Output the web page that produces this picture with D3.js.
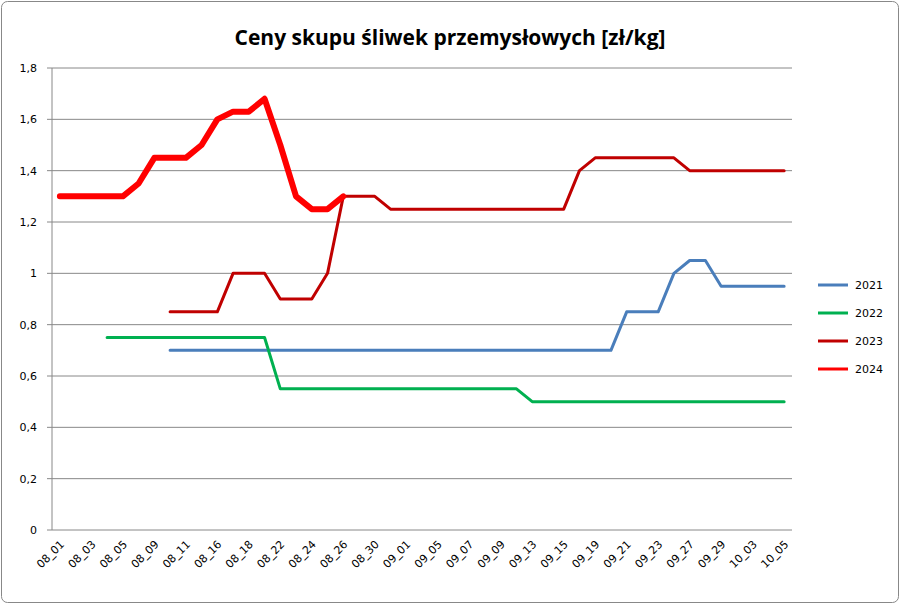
<!DOCTYPE html>
<html><head><meta charset="utf-8">
<script src="https://cdn.jsdelivr.net/npm/d3@7"></script>
<style>body{margin:0;background:#fff}</style></head>
<body><svg id="c" width="900" height="604"></svg>
<script>
const categories=["08_01","08_02","08_03","08_04","08_05","08_08","08_09","08_10","08_11","08_12","08_16","08_17","08_18","08_19","08_22","08_23","08_24","08_25","08_26","08_29","08_30","08_31","09_01","09_02","09_05","09_06","09_07","09_08","09_09","09_12","09_13","09_14","09_15","09_16","09_19","09_20","09_21","09_22","09_23","09_26","09_27","09_28","09_29","09_30","10_03","10_04","10_05"];
const n=null;
const s2021=[n,n,n,n,n,n,n,0.7,0.7,0.7,0.7,0.7,0.7,0.7,0.7,0.7,0.7,0.7,0.7,0.7,0.7,0.7,0.7,0.7,0.7,0.7,0.7,0.7,0.7,0.7,0.7,0.7,0.7,0.7,0.7,0.7,0.85,0.85,0.85,1.0,1.05,1.05,0.95,0.95,0.95,0.95,0.95];
const s2022=[n,n,n,0.75,0.75,0.75,0.75,0.75,0.75,0.75,0.75,0.75,0.75,0.75,0.55,0.55,0.55,0.55,0.55,0.55,0.55,0.55,0.55,0.55,0.55,0.55,0.55,0.55,0.55,0.55,0.5,0.5,0.5,0.5,0.5,0.5,0.5,0.5,0.5,0.5,0.5,0.5,0.5,0.5,0.5,0.5,0.5];
const s2023=[n,n,n,n,n,n,n,0.85,0.85,0.85,0.85,1.0,1.0,1.0,0.9,0.9,0.9,1.0,1.3,1.3,1.3,1.25,1.25,1.25,1.25,1.25,1.25,1.25,1.25,1.25,1.25,1.25,1.25,1.4,1.45,1.45,1.45,1.45,1.45,1.45,1.4,1.4,1.4,1.4,1.4,1.4,1.4];
const s2024=[1.3,1.3,1.3,1.3,1.3,1.35,1.45,1.45,1.45,1.5,1.6,1.63,1.63,1.68,1.5,1.3,1.25,1.25,1.3];
const yTicks=["0","0,2","0,4","0,6","0,8","1","1,2","1,4","1,6","1,8"];
const series=[{name:"2021",v:s2021,c:"#4a7ebb",w:3},{name:"2022",v:s2022,c:"#00b050",w:3},{name:"2023",v:s2023,c:"#c00000",w:3},{name:"2024",v:s2024,c:"#ff0000",w:6}];
const svg=d3.select("#c");
svg.append("rect").attr("x",1.5).attr("y",1.5).attr("width",897).attr("height",601).attr("rx",6).attr("fill","#fff").attr("stroke","#888");
const x=d3.scalePoint().domain(categories).range([52,792]).padding(0.5);
const y=d3.scaleLinear().domain([0,1.8]).range([530,68]);
const g=svg.append("g");
yTicks.forEach((t,i)=>{const v=i*0.2;
 if(i>0)g.append("line").attr("x1",52).attr("x2",792).attr("y1",y(v)).attr("y2",y(v)).attr("stroke","#888").attr("stroke-width",1);
 g.append("text").attr("x",37).attr("y",y(v)+4).attr("text-anchor","end").attr("font-family","DejaVu Sans").attr("font-size",11).text(t);
 g.append("line").attr("x1",47).attr("x2",52).attr("y1",y(v)).attr("y2",y(v)).attr("stroke","#888");
});
g.append("line").attr("x1",52).attr("x2",52).attr("y1",68).attr("y2",530).attr("stroke","#888");
g.append("line").attr("x1",52).attr("x2",792).attr("y1",530).attr("y2",530).attr("stroke","#888");
categories.forEach((c,i)=>{if(i%2)return;
 g.append("text").attr("transform",`translate(${x(c)+5},${545}) rotate(-45)`).attr("text-anchor","end").attr("font-family","DejaVu Sans").attr("font-size",11).text(c);
});
const line=d3.line().defined(d=>d!=null).x((d,i)=>x(categories[i])).y(d=>y(d));
series.forEach(s=>{
 g.append("path").attr("d",line(s.v)).attr("fill","none").attr("stroke",s.c).attr("stroke-width",s.w).attr("stroke-linejoin","round").attr("stroke-linecap","round");
});
series.forEach((s,i)=>{const ly=285+i*28;
 g.append("line").attr("x1",818).attr("x2",848).attr("y1",ly).attr("y2",ly).attr("stroke",s.c).attr("stroke-width",3);
 g.append("text").attr("x",855).attr("y",ly+4).attr("font-family","DejaVu Sans").attr("font-size",11).text(s.name);
});
svg.append("text").attr("x",450).attr("y",45).attr("text-anchor","middle").attr("font-family","Open Sans").attr("font-weight","bold").attr("font-size",21).text("Ceny skupu śliwek przemysłowych [zł/kg]");
</script></body></html>
